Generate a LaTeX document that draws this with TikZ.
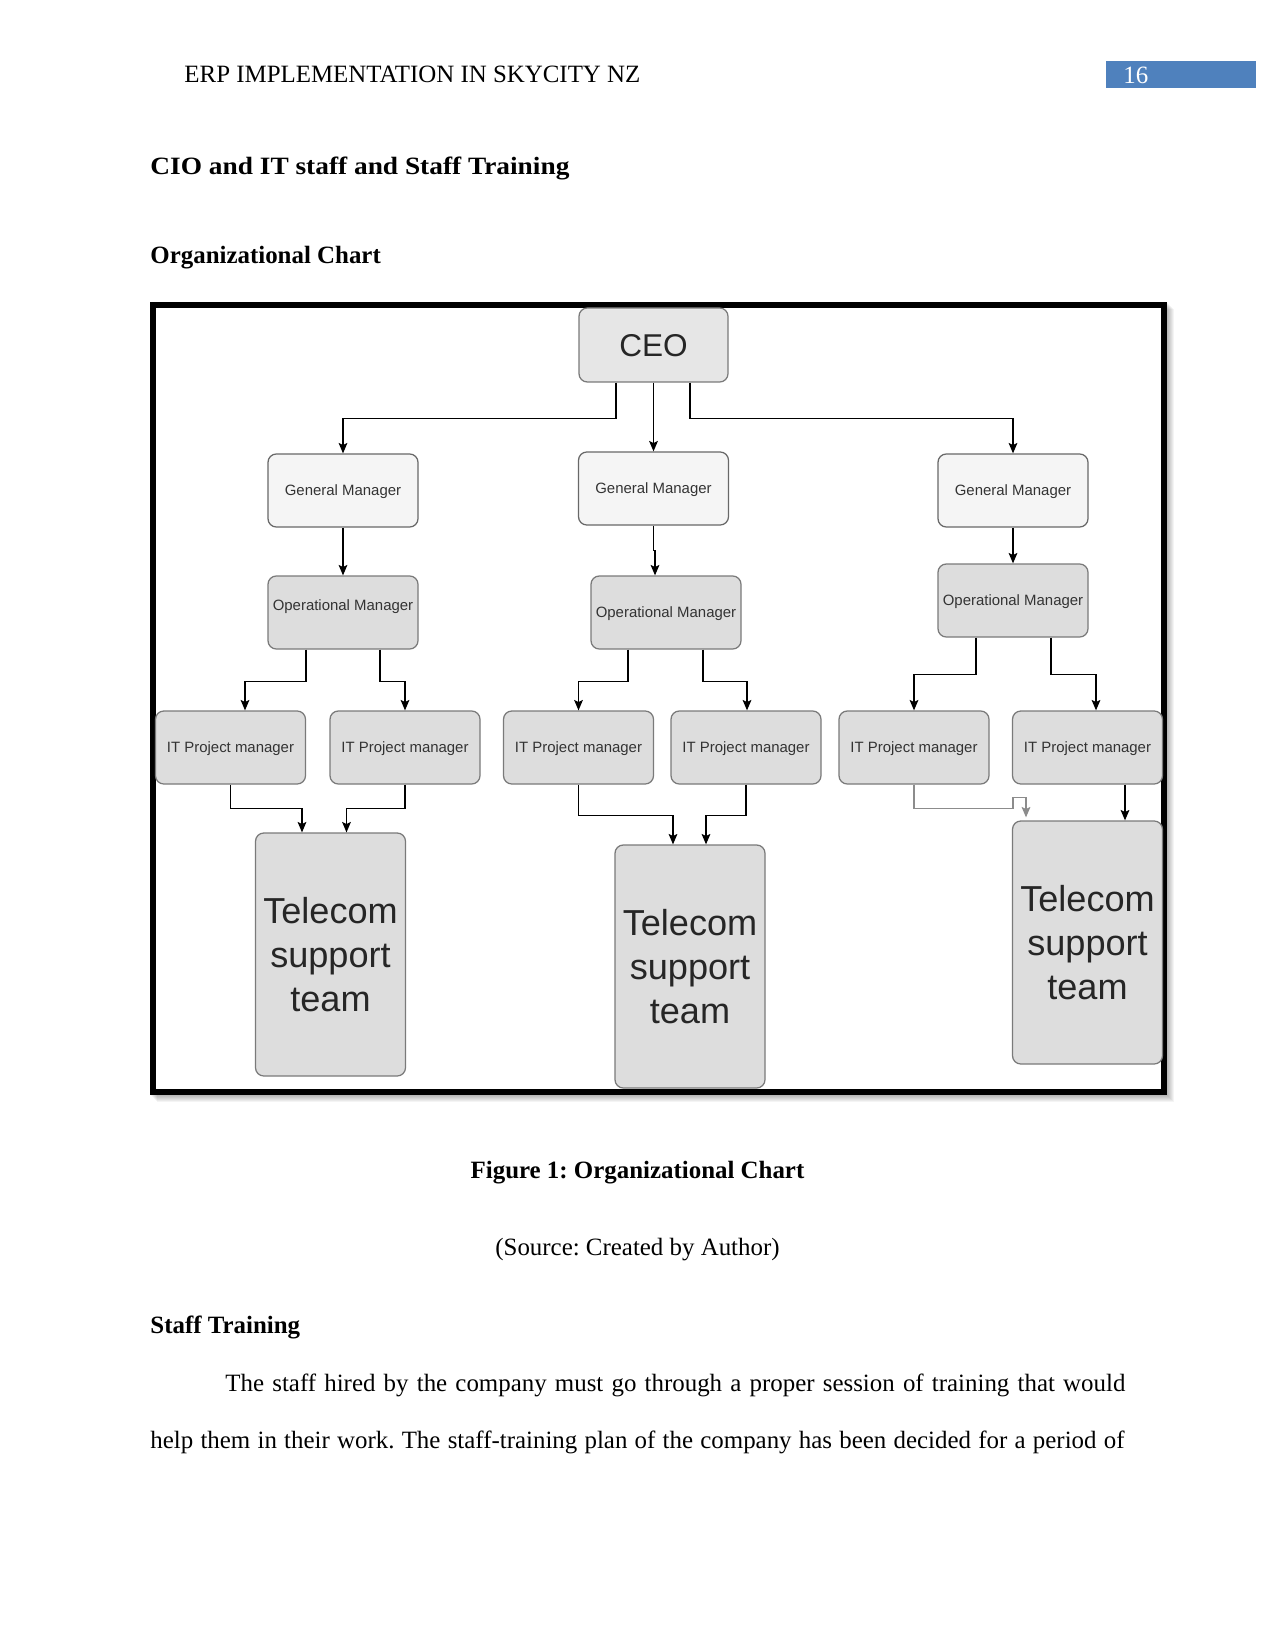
\documentclass[tikz,border=0pt]{standalone}
\usepackage{fontspec}
\setmainfont{Liberation Serif}
\newfontfamily\arialf{Liberation Sans}
\usetikzlibrary{arrows.meta,calc}
\definecolor{hdrblue}{HTML}{4F81BD}
\definecolor{ceofill}{HTML}{E6E6E6}
\definecolor{gmfill}{HTML}{F5F5F5}
\definecolor{boxfill}{HTML}{DDDDDD}
\definecolor{boxdraw}{HTML}{7A7A7A}
\definecolor{boxtext}{HTML}{333333}
\definecolor{grayarrow}{HTML}{8C8C8C}
\frenchspacing
\begin{document}
\frenchspacing
\begin{tikzpicture}[x=0.4818pt,y=-0.4818pt,
  doc/.style={inner sep=0pt, font=\fontsize{12}{14.4}\selectfont},
  docb/.style={doc, font=\fontsize{12}{14.4}\selectfont\bfseries},
  orgbase/.style={draw=boxdraw, line width=0.6pt, rounded corners=4pt, inner sep=0pt,
     minimum width=150*0.4818pt, minimum height=73*0.4818pt, fill=boxfill, text=boxtext,
     font=\arialf\fontsize{7.2}{8.6}\selectfont, align=center},
  orgbox/.style={orgbase, text depth=0pt},
  gmbox/.style={orgbox, fill=gmfill, draw=boxdraw!85!black},
  ceobox/.style={orgbox, fill=ceofill, minimum width=149*0.4818pt, minimum height=74*0.4818pt,
     font=\arialf\fontsize{15.2}{18}\selectfont, text=black!85},
  telbox/.style={orgbase, minimum height=243*0.4818pt,
     font=\arialf\fontsize{17.4}{21.2}\selectfont, text=black!85},
  conn/.style={line width=0.6pt, draw=black, -{Stealth[length=5pt,width=4.2pt,inset=1pt]}},
  gconn/.style={line width=0.6pt, draw=grayarrow, -{Stealth[length=5pt,width=4.2pt,inset=1pt]}},
]
\useasboundingbox (0,0) rectangle (1275,1650);
\fill[white] (0,0) rectangle (1275,1650);

% header
\node[doc, anchor=base west] (hdr) at (184,83) {ERP IMPLEMENTATION IN SKYCITY NZ};
\node[fill=hdrblue, anchor=north west, minimum width=150*0.4818pt, minimum height=27*0.4818pt, inner sep=0pt] (pgbox) at (1106,61) {};
\node[doc, anchor=west, text=white] (pgnum) at ($(pgbox.west)+(17,0)$) {16};

% headings
\node[docb, anchor=base west] (h1) at (150,175) {\resizebox{201.9pt}{\height}{CIO and IT staff and Staff Training}};
\node[docb, anchor=base west] (h2) at (150,264) {Organizational Chart};

% frame with shadow
\foreach \i in {1,...,7} {
  \fill[black, opacity=0.045] (150+\i,302+\i) rectangle (1167+\i,1095+\i);
}
\filldraw[fill=white, draw=black, line width=6*0.4818pt] (153,305) rectangle (1164,1092);

% chart nodes
\node[ceobox] (ceo) at (653.5,345) {CEO};
\node[gmbox] (gm1) at (343,490.5) {General Manager};
\node[gmbox] (gm2) at (653.5,488.5) {General Manager};
\node[gmbox] (gm3) at (1013,490.5) {General Manager};
\node[orgbox, text depth=7.6pt] (om1) at (343,612.5) {Operational Manager};
\node[orgbox] (om2) at (666,612.5) {Operational Manager};
\node[orgbox] (om3) at (1013,600.5) {Operational Manager};
\node[orgbox] (it1) at (230.5,747.5) {IT Project manager};
\node[orgbox] (it2) at (405,747.5) {IT Project manager};
\node[orgbox] (it3) at (578.5,747.5) {IT Project manager};
\node[orgbox] (it4) at (746,747.5) {IT Project manager};
\node[orgbox] (it5) at (914,747.5) {IT Project manager};
\node[orgbox] (it6) at (1087.5,747.5) {IT Project manager};
\node[telbox] (t1) at (330.5,954.5) {Telecom\\support\\team};
\node[telbox] (t2) at (690,966.5) {Telecom\\support\\team};
\node[telbox] (t3) at (1087.5,942.5) {Telecom\\support\\team};

% connectors
\draw[conn] ($(ceo.south)+(-37.5,0)$) -- ++(0,36) -| (gm1.north);
\draw[conn] (ceo.south) -- (gm2.north);
\draw[conn] ($(ceo.south)+(36.5,0)$) -- ++(0,36) -| (gm3.north);
\draw[conn] (gm1.south) -- (om1.north);
\draw[conn] (gm2.south) -- ++(0,25) -| ($(om2.north)+(-11,0)$);
\draw[conn] (gm3.south) -- (om3.north);
\draw[conn] ($(om1.south)+(-37,0)$) -- ++(0,32) -| ($(it1.north)+(14.5,0)$);
\draw[conn] ($(om1.south)+(37,0)$) -- ++(0,32) -| (it2.north);
\draw[conn] ($(om2.south)+(-38,0)$) -- ++(0,32) -| (it3.north);
\draw[conn] ($(om2.south)+(37,0)$) -- ++(0,32) -| ($(it4.north)+(1,0)$);
\draw[conn] ($(om3.south)+(-37,0)$) -- ++(0,37) -| (it5.north);
\draw[conn] ($(om3.south)+(38,0)$) -- ++(0,37) -| ($(it6.north)+(8.5,0)$);
\draw[conn] (it1.south) -- ++(0,24) -| ($(t1.north)+(-28.5,0)$);
\draw[conn] (it2.south) -- ++(0,24) -| ($(t1.north)+(16,0)$);
\draw[conn] (it3.south) -- ++(0,31) -| ($(t2.north)+(-17,0)$);
\draw[conn] (it4.south) -- ++(0,31) -| ($(t2.north)+(16,0)$);
\draw[gconn] (it5.south) -- ++(0,24) -- ++(99,0) -- ++(0,-11) -| ($(t3.north)+(-61.5,-3)$);
\draw[conn] ($(it6.south)+(37.5,0)$) -- ($(t3.north)+(37.5,0)$);

% caption and text
\node[docb, anchor=base] (cap) at (637.5,1178) {Figure 1: Organizational Chart};
\node[doc, anchor=base] (src) at (637.5,1255) {(Source: Created by Author)};
\node[docb, anchor=base west] (h3) at (150,1333) {Staff Training};
\node[doc, anchor=base west] (p1) at (225,1391) {\makebox[433.6pt][s]{The staff hired by the company must go through a proper session of training that would}};
\node[doc, anchor=base west] (p2) at (150,1448) {\makebox[469.3pt][s]{help them in their work. The staff-training plan of the company has been decided for a period of}};
\end{tikzpicture}
\end{document}
